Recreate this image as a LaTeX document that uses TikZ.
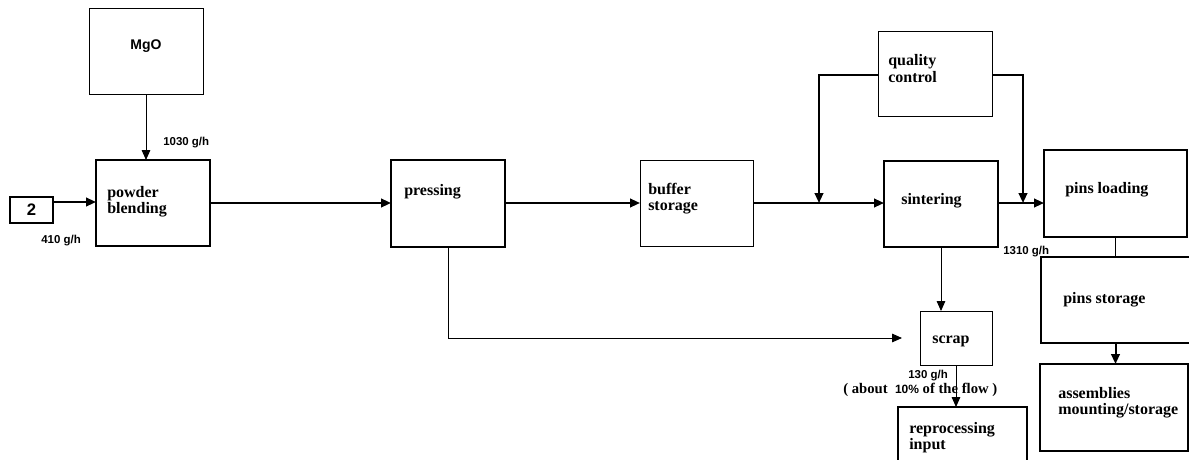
\documentclass[tikz,border=0pt]{standalone}
\usepackage{fontspec}
\setmainfont{Liberation Serif}
\newfontfamily\lsans{Liberation Sans}
\usetikzlibrary{arrows.meta}
\newcommand\tl[1]{\begin{tabular}[t]{@{}l@{}}#1\end{tabular}}
\newcommand\mybox[6]{\node[#2, anchor=north west, minimum width={(#5-#3)*0.75pt}, minimum height={(#6-#4)*0.75pt}] (#1) at (#3,#4) {};}
\tikzset{
  thickbox/.style={draw, line width=1.5pt, inner sep=0pt, outer sep=0pt},
  thinbox/.style={draw, line width=0.75pt, inner sep=0pt, outer sep=0pt},
  boxtext/.style={anchor=base west, inner sep=0pt, font=\fontsize{12}{13.5}\selectfont\bfseries},
  lab/.style={inner sep=0pt, font=\lsans\fontsize{8.6}{10}\selectfont\bfseries},
  flow/.style={line width=1.5pt, -{Triangle[length=7.5pt,width=6.5pt]}},
  thinflow/.style={line width=0.7pt, -{Triangle[length=7.5pt,width=6.5pt]}},
  thinline/.style={line width=0.7pt},
}
\renewcommand\arraystretch{0.94}
\begin{document}
\begin{tikzpicture}[x=0.75pt, y=-0.75pt]
\useasboundingbox (0,0) rectangle (1189,460);
% boxes
\mybox{mgo}{thinbox}{89}{9}{203}{95}
\mybox{pb}{thickbox}{96}{160}{210}{246}
\mybox{two}{thickbox}{10}{197}{53}{223}
\mybox{pr}{thickbox}{391}{160}{505}{247}
\mybox{bs}{thinbox}{640}{160}{753}{246}
\mybox{qc}{thinbox}{878}{32}{992}{117}
\mybox{si}{thickbox}{884}{161}{998}{247}
\mybox{pl}{thickbox}{1044}{150}{1187}{237}
\mybox{ps}{thickbox}{1041}{257}{1194}{343}
\mybox{sc}{thinbox}{920}{311}{992}{365}
\mybox{rp}{thickbox}{898}{407}{1027}{470}
\mybox{as}{thickbox}{1040}{364}{1188}{451}
% texts
\node[lab, font=\lsans\fontsize{10.5}{12}\selectfont\bfseries] (mgot) at (mgo.center |- 0,46) {MgO};
\node[lab, font=\lsans\fontsize{12.5}{14}\selectfont\bfseries] (twot) at (two.center) {2};
\node[boxtext] (pbt) at (107,197) {\tl{powder\\blending}};
\node[boxtext] (prt) at (404,195) {pressing};
\node[boxtext] (bst) at (648,194) {\tl{buffer\\storage}};
\node[boxtext] (qct) at (888,66) {\tl{quality\\control}};
\node[boxtext] (sit) at (901,204) {sintering};
\node[boxtext] (plt) at (1065,193) {pins loading};
\node[boxtext] (pst) at (1063,303) {pins storage};
\node[boxtext] (sct) at (932,343) {scrap};
\node[boxtext] (ast) at (1058,398) {\tl{assemblies\\mounting/storage}};
\node[boxtext] (rpt) at (909,433) {\tl{reprocessing\\input}};
% labels
\node[lab, anchor=base west] (l1030) at (163,146) {1030 g/h};
\node[lab, anchor=base west] (l410) at (41,243) {410 g/h};
\node[lab, anchor=base west] (l1310) at (1003,254) {1310 g/h};
\node[lab, anchor=base west] (l130) at (908,378) {130 g/h};
\node[anchor=base west, inner sep=0pt, font=\fontsize{11}{12}\selectfont\bfseries] (about) at (843,393) {(\ about\ \ {\lsans\fontsize{9}{10}\selectfont 10\%} of the flow\ )};
% connectors
\draw[flow] (two.east |- 0,202) -- (pb.west |- 0,202);
\draw[thinflow] (mgo.south) -- (mgo.south |- pb.north);
\draw[flow] (pb.east |- 0,203) -- (pr.west |- 0,203);
\draw[flow] (pr.east |- 0,203) -- (bs.west |- 0,203);
\draw[flow] (bs.east |- 0,203) -- (si.west |- 0,203);
\draw[flow] (si.east |- 0,203) -- (pl.west |- 0,203);
\coordinate (qcl) at (819,203);
\coordinate (qcr) at (1023,203);
\draw[flow] (qc.west |- 0,75) -| (qcl);
\draw[flow] (qc.east |- 0,75) -| (qcr);
\draw[thinflow] (si.south) -- (si.south |- sc.north);
\coordinate (scin) at (902,338);
\draw[thinflow] (pr.south) -- (pr.south |- scin) -- (scin);
\draw[thinflow] (sc.south) -- (sc.south |- rp.north);
\draw[thinline] (pl.south) -- (pl.south |- ps.north);
\draw[flow] (ps.south -| pl.south) -- (pl.south |- as.north);
\end{tikzpicture}
\end{document}
